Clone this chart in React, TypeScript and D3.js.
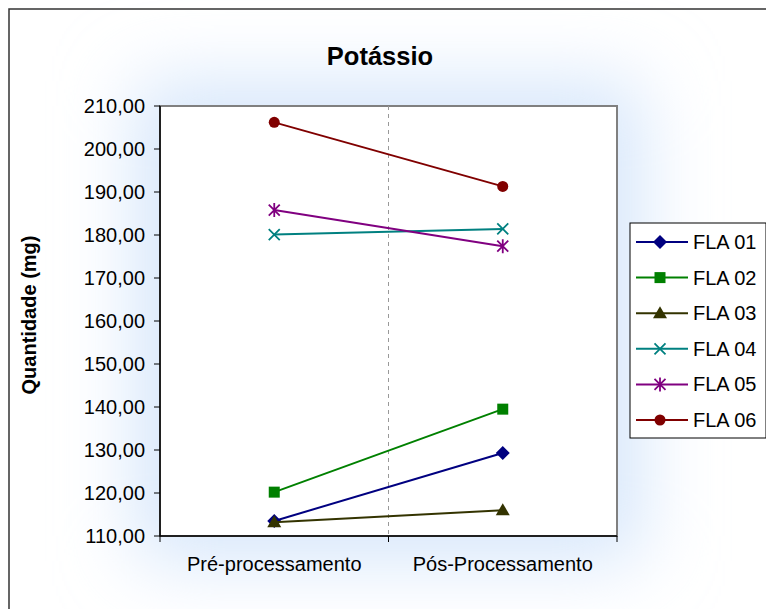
import React from "react";
import * as d3 from "d3";

const categories = ["Pré-processamento", "Pós-Processamento"];
const seriesNames = ["FLA 01", "FLA 02", "FLA 03", "FLA 04", "FLA 05", "FLA 06"];
const fla01 = [113.5, 129.3];
const fla02 = [120.2, 139.5];
const fla03 = [113.2, 116.0];
const fla04 = [180.1, 181.4];
const fla05 = [185.8, 177.4];
const fla06 = [206.2, 191.3];
const yTicks = [110, 120, 130, 140, 150, 160, 170, 180, 190, 200, 210];

const seriesValues = [fla01, fla02, fla03, fla04, fla05, fla06];
const colors = ["#000080", "#008000", "#333300", "#008080", "#800080", "#800000"];
const markers = ["diamond", "square", "triangle", "x", "star", "circle"];

const W = 766;
const H = 609;
const plot = { left: 160, top: 106, right: 617, bottom: 536 };

function Marker({ type, x, y, color }: { type: string; x: number; y: number; color: string }) {
  if (type === "diamond")
    return <path d={`M${x},${y - 7}L${x + 7},${y}L${x},${y + 7}L${x - 7},${y}Z`} fill={color} />;
  if (type === "square") return <rect x={x - 5.5} y={y - 5.5} width={11} height={11} fill={color} />;
  if (type === "triangle")
    return <path d={`M${x},${y - 7}L${x + 7},${y + 5}L${x - 7},${y + 5}Z`} fill={color} />;
  if (type === "circle") return <circle cx={x} cy={y} r={5.5} fill={color} />;
  if (type === "x")
    return (
      <path
        d={`M${x - 5.5},${y - 5.5}L${x + 5.5},${y + 5.5}M${x - 5.5},${y + 5.5}L${x + 5.5},${y - 5.5}`}
        stroke={color}
        strokeWidth={1.8}
      />
    );
  // star (asterisk)
  return (
    <path
      d={`M${x - 5.5},${y - 5.5}L${x + 5.5},${y + 5.5}M${x - 5.5},${y + 5.5}L${x + 5.5},${y - 5.5}M${x},${y - 7}L${x},${y + 7}`}
      stroke={color}
      strokeWidth={1.8}
    />
  );
}

export default function App() {
  const x = d3.scaleBand().domain(categories).range([plot.left, plot.right]);
  const y = d3.scaleLinear().domain([110, 210]).range([plot.bottom, plot.top]);
  const cx = (c: string) => (x(c) as number) + x.bandwidth() / 2;
  const lineGen = d3
    .line<number>()
    .x((_, i) => cx(categories[i]))
    .y((d) => y(d));

  const legend = { x: 630, y: 223, w: 136, h: 215 };
  const font = "'Liberation Sans', Arial, sans-serif";

  return (
    <div style={{ position: "absolute", left: 0, top: 0 }}>
      <svg width={W} height={H} style={{ display: "block" }} fontFamily={font}>
        <defs>
          <filter id="glow" x="-30%" y="-30%" width="160%" height="160%">
            <feGaussianBlur stdDeviation="38" />
          </filter>
        </defs>
        <rect x={0} y={0} width={W} height={H} fill="#ffffff" />
        <rect
          x={plot.left - 25}
          y={plot.top - 25}
          width={plot.right - plot.left + 50}
          height={plot.bottom - plot.top + 50}
          fill="#d6e6fb"
          filter="url(#glow)"
        />
        <rect x={9} y={9} width={W + 20} height={H + 20} fill="none" stroke="#333" strokeWidth={1.5} />

        <text x={380} y={65} textAnchor="middle" fontSize={25.5} fontWeight="bold" fill="#000">
          Potássio
        </text>

        <rect
          x={plot.left}
          y={plot.top}
          width={plot.right - plot.left}
          height={plot.bottom - plot.top}
          fill="#fff"
          stroke="#808080"
          strokeWidth={2}
        />
        <line
          x1={plot.left + (plot.right - plot.left) / 2}
          x2={plot.left + (plot.right - plot.left) / 2}
          y1={plot.top}
          y2={plot.bottom}
          stroke="#999"
          strokeDasharray="4,4"
        />

        {/* y axis */}
        <line x1={plot.left} x2={plot.left} y1={plot.top} y2={plot.bottom} stroke="#000" strokeWidth={1.5} />
        {yTicks.map((t) => (
          <g key={t}>
            <line x1={plot.left - 6} x2={plot.left} y1={y(t)} y2={y(t)} stroke="#000" />
            <text x={plot.left - 15} y={y(t) + 7} textAnchor="end" fontSize={20} fill="#000">
              {d3.format(".2f")(t).replace(".", ",")}
            </text>
          </g>
        ))}

        {/* x axis */}
        <line x1={plot.left} x2={plot.right} y1={plot.bottom} y2={plot.bottom} stroke="#000" strokeWidth={1.5} />
        {[plot.left, plot.left + x.bandwidth(), plot.right].map((p, i) => (
          <line key={i} x1={p} x2={p} y1={plot.bottom} y2={plot.bottom + 6} stroke="#000" />
        ))}
        {categories.map((c) => (
          <text key={c} x={cx(c)} y={plot.bottom + 35} textAnchor="middle" fontSize={20} fill="#000">
            {c}
          </text>
        ))}

        <text
          transform={`translate(36,${(plot.top + plot.bottom) / 2 - 6}) rotate(-90)`}
          textAnchor="middle"
          fontSize={20}
          fontWeight="bold"
          fill="#000"
        >
          Quantidade (mg)
        </text>

        {seriesValues.map((vals, si) => (
          <g key={si}>
            <path d={lineGen(vals)!} fill="none" stroke={colors[si]} strokeWidth={2} />
            {vals.map((v, i) => (
              <Marker key={i} type={markers[si]} x={cx(categories[i])} y={y(v)} color={colors[si]} />
            ))}
          </g>
        ))}

        {/* legend */}
        <rect x={legend.x} y={legend.y} width={legend.w} height={legend.h} fill="#fff" stroke="#000" />
        {seriesNames.map((n, i) => {
          const ly = 242 + i * 35.6;
          return (
            <g key={n}>
              <line x1={636} x2={688} y1={ly} y2={ly} stroke={colors[i]} strokeWidth={2} />
              <Marker type={markers[i]} x={660} y={ly} color={colors[i]} />
              <text x={693} y={ly + 7} fontSize={20} fill="#000">
                {n}
              </text>
            </g>
          );
        })}
      </svg>
    </div>
  );
}
